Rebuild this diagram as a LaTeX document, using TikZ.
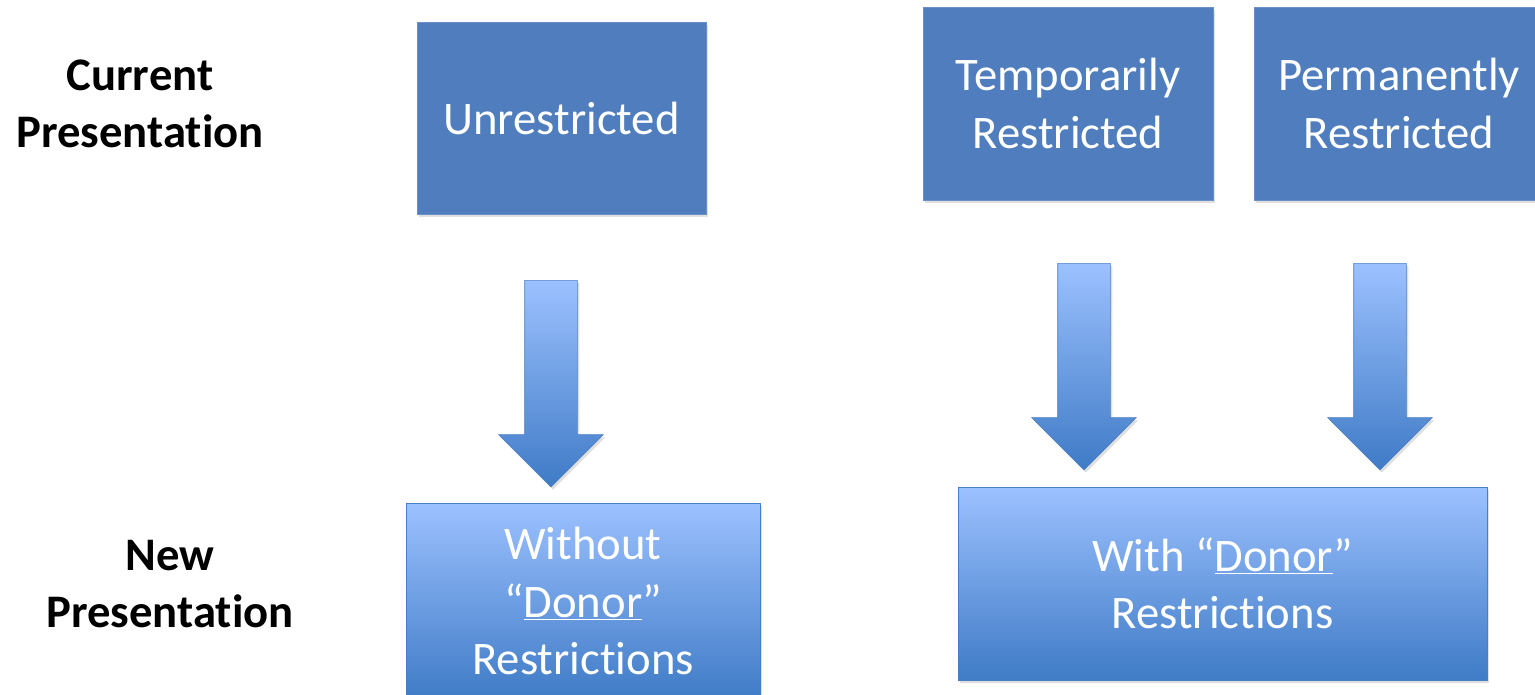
\documentclass[tikz,border=0pt]{standalone}
\usepackage{fontspec}
\setmainfont{Carlito}[RawFeature={-liga;-clig;-calt;-dlig;-rlig;-ccmp}]
\usepackage{xcolor}
\usetikzlibrary{shapes,arrows,positioning,shadows}
\definecolor{boxblue}{RGB}{79,125,189}
\definecolor{lightblue}{RGB}{156,193,255}
\definecolor{darkblue}{RGB}{63,123,198}
\definecolor{edgeblue}{RGB}{74,126,196}
\tikzstyle{heading} = [font=\fontsize{35pt}{43pt}\selectfont\bfseries, align=center, text=black]
\tikzstyle{oldbox} = [rectangle, draw=boxblue!85!white, fill=boxblue, text=white, align=center, font=\fontsize{35pt}{43pt}\selectfont, drop shadow={opacity=0.25, shadow xshift=1.5pt, shadow yshift=-2pt}]
\tikzstyle{newbox} = [rectangle, draw=edgeblue, top color=lightblue, bottom color=darkblue, text=white, align=center, font=\fontsize{35pt}{43pt}\selectfont, drop shadow={opacity=0.25, shadow xshift=1.5pt, shadow yshift=-2pt}]
\tikzstyle{fatarrow} = [single arrow, draw=edgeblue, top color=lightblue, bottom color=darkblue, shape border rotate=270, minimum height=155pt, single arrow head extend=19.5pt, inner sep=19.5pt, drop shadow={opacity=0.25, shadow xshift=1.5pt, shadow yshift=-2pt}]

\begin{document}
\begin{tikzpicture}[x=0.75pt, y=-0.75pt]
    \useasboundingbox (0,0) rectangle (1535,694);

    % Row headings
    \node[heading] (cur) at (140,104) {Current\\Presentation};
    \node[heading] (newp) at (170,584) {New\\Presentation};

    % Current presentation
    \node[oldbox, minimum width=216.75pt, minimum height=144pt] (unres) at (561.5,118) {Unrestricted};
    \node[oldbox, minimum width=217.5pt, minimum height=144.75pt] (temp) at (1068,103.5) {Temporarily\\Restricted};
    \node[oldbox, minimum width=217.5pt, minimum height=144.75pt] (perm) at (1399,103.5) {Permanently\\Restricted};

    % New presentation
    \node[newbox, minimum width=265.5pt, minimum height=147pt] (without) at (583,601) {Without\\“\underline{Donor}”\\Restrictions};
    \node[newbox, minimum width=396.75pt, minimum height=144.75pt] (with) at (1222.5,583.5) {With “\underline{Donor}”\\Restrictions};

    % Arrows
    \node[fatarrow] (arr1) at (551,370.5) {};
    \node[fatarrow] (arr2) at (1084,353.5) {};
    \node[fatarrow] (arr3) at (1380,353.5) {};
\end{tikzpicture}
\end{document}
